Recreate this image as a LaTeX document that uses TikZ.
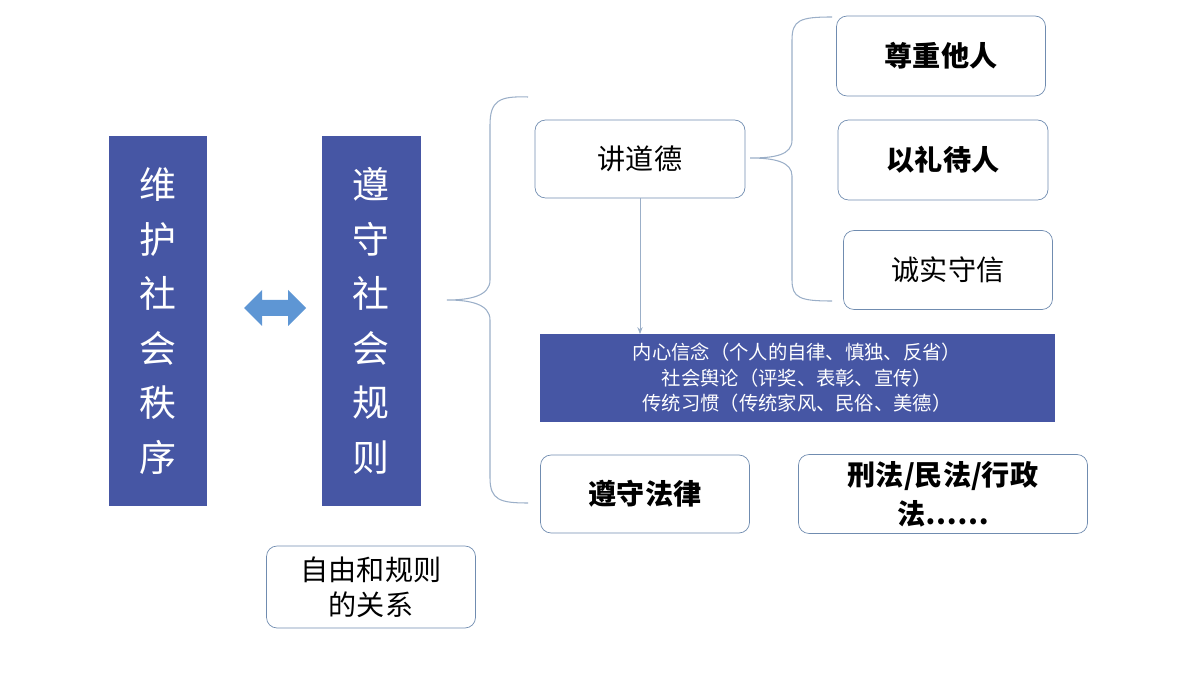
\documentclass[tikz,border=0pt]{standalone}
\usepackage{fontspec}
\setmainfont{Noto Sans CJK SC}
\usetikzlibrary{arrows.meta}
\definecolor{bandblue}{RGB}{70,86,164}
\definecolor{edgeblue}{RGB}{112,140,176}
\definecolor{arrowblue}{RGB}{94,150,212}
\begin{document}
\begin{tikzpicture}[x=0.02cm,y=-0.02cm,
    band/.style={fill=bandblue,text=white,inner sep=0pt},
    card/.style={draw=edgeblue,rounded corners=6pt,fill=white,inner sep=0pt,align=center,font=\fontsize{16}{20}\selectfont},
    brace/.style={draw=edgeblue!70,line width=0.6pt}]
    \useasboundingbox (0,0) rectangle (1200,675);

    % vertical bands
    \node[band,minimum width=98*0.02cm,minimum height=370*0.02cm,font=\fontsize{21}{31}\selectfont,align=center]
        (order) at (158,321) {维\\护\\社\\会\\秩\\序};
    \node[band,minimum width=99*0.02cm,minimum height=370*0.02cm,font=\fontsize{21}{31}\selectfont,align=center]
        (rules) at (371,321) {遵\\守\\社\\会\\规\\则};

    % double arrow
    \fill[arrowblue] (244,308) -- (262,290) -- (262,300) -- (288,300) -- (288,290) -- (306,308)
        -- (288,326) -- (288,316) -- (262,316) -- (262,326) -- cycle;

    \node[card,minimum width=209*0.02cm,minimum height=82*0.02cm] (rel) at (371,587) {自由和规则\\的关系};

    % large brace
    \draw[brace] (528,97) .. controls (500,96) and (490,100) .. (490,125) -- (490,280)
        .. controls (490,296) and (470,300) .. (447,300)
        .. controls (470,300) and (490,304) .. (490,320) -- (490,478)
        .. controls (490,500) and (500,503) .. (528,503);

    \node[card,minimum width=210*0.02cm,minimum height=78*0.02cm] (moral) at (640,159) {讲道德};

    % small brace
    \draw[brace] (832,17) .. controls (800,17) and (792,20) .. (792,40) -- (792,140)
        .. controls (792,155) and (775,158) .. (750,158)
        .. controls (775,158) and (792,162) .. (792,176) -- (792,280)
        .. controls (792,298) and (800,301) .. (832,301);

    \node[card,minimum width=209*0.02cm,minimum height=80*0.02cm,font=\fontsize{16}{20}\selectfont\bfseries] (respect) at (941,56) {尊重他人};
    \node[card,minimum width=210*0.02cm,minimum height=80*0.02cm,font=\fontsize{16}{20}\selectfont\bfseries] (polite) at (943,160) {以礼待人};
    \node[card,minimum width=209*0.02cm,minimum height=79*0.02cm] (honest) at (948,270) {诚实守信};

    \node[band,minimum width=515*0.02cm,minimum height=87*0.02cm,align=center,font=\fontsize{11}{14.5}\selectfont]
        (belief) at (797,378) {内心信念（个人的自律、慎独、反省）\\社会舆论（评奖、表彰、宣传）\\传统习惯（传统家风、民俗、美德）};

    \draw[-{Stealth[length=4pt]},draw=edgeblue!70,line width=0.5pt] (moral.south) -- (moral.south |- belief.north);

    \node[card,minimum width=209*0.02cm,minimum height=78*0.02cm,font=\fontsize{16}{20}\selectfont\bfseries] (law) at (645,494) {遵守法律};
    \node[card,minimum width=289*0.02cm,minimum height=79*0.02cm,font=\fontsize{16}{22}\selectfont\bfseries] (codes) at (943,494) {刑法/民法/行政\\法……};
\end{tikzpicture}
\end{document}
